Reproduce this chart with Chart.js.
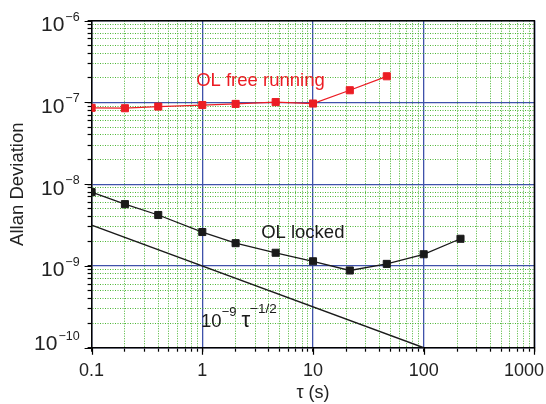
<!DOCTYPE html>
<html>
<head>
<meta charset="utf-8">
<script src="https://cdn.jsdelivr.net/npm/chart.js@4.4.1/dist/chart.umd.min.js"></script>
<style>
  html, body { margin: 0; padding: 0; background: #fff; }
</style>
</head>
<body>
<canvas id="myChart" width="546" height="404"></canvas>
<script>
// averaging times and Allan deviation values
const tau = [0.1, 0.2, 0.4, 1, 2, 4.6, 10, 21.5, 46.4, 100, 215]
const freeRunning = [8.6e-8, 8.5e-8, 8.9e-8, 9.3e-8, 9.6e-8, 1.01e-7, 9.7e-8, 1.41e-7, 2.09e-7]
const locked = [8.0e-9, 5.7e-9, 4.2e-9, 2.6e-9, 1.9e-9, 1.45e-9, 1.14e-9, 8.8e-10, 1.06e-9, 1.39e-9, 2.15e-9]
// 1e-9 / sqrt(tau) guide line, end points
const guideTau = [0.1, 100]
const guideValue = [3.16e-9, 1e-10]

const xTickLabels = ['0.1', '1', '10', '100', '1000']
const yTickExponents = ['−6', '−7', '−8', '−9', '−10']

const RED = '#ec1c24'
const BLACK = '#1a1a1a'
const FONT = "'Liberation Sans', Arial, sans-serif"

Chart.defaults.font.family = FONT

const isDecade = v => Math.abs(Math.log10(v) - Math.round(Math.log10(v))) < 1e-6

// 1..9 x 10^e for every decade between the two exponents
function decadeTicks(lo, hi) {
	const out = []
	for (let e = lo; e < hi; e++) {
		for (let m = 1; m < 10; m++) out.push({ value: +(m * Math.pow(10, e)).toPrecision(3) })
	}
	out.push({ value: +Math.pow(10, hi).toPrecision(3) })
	return out
}

const gridOpts = {
	color: ctx => ctx.tick && isDecade(ctx.tick.value) ? '#3f52aa' : '#4cb535',
	lineWidth: ctx => ctx.tick && isDecade(ctx.tick.value) ? 1.3 : 1,
	tickColor: '#000',
	tickLength: 4,
	tickWidth: 1.2,
}
const borderOpts = {
	color: '#000',
	width: 1.5,
	dash: ctx => ctx.tick && !isDecade(ctx.tick.value) ? [1, 1.5] : [],
}

// draws text pieces one after another, each with its own size and rise
function drawRuns(ctx, x, y, runs, align) {
	let widths = runs.map(r => {
		ctx.font = r.size + 'px ' + FONT
		return ctx.measureText(r.text).width + (r.gap || 0)
	})
	let total = widths.reduce((a, b) => a + b, 0)
	let cx = x
	if (align === 'right') cx = x - total
	if (align === 'center') cx = x - total / 2
	ctx.textAlign = 'left'
	ctx.textBaseline = 'alphabetic'
	runs.forEach((r, i) => {
		ctx.font = r.size + 'px ' + FONT
		ctx.fillText(r.text, cx + (r.gap || 0), y - (r.rise || 0))
		cx += widths[i]
	})
	return total
}

const extras = {
	id: 'extras',
	afterDatasetsDraw(chart) {
		const { ctx, chartArea: a, scales: { x, y } } = chart
		ctx.save()
		// frame on top and right
		ctx.strokeStyle = '#000'
		ctx.lineWidth = 1.5
		ctx.beginPath()
		ctx.moveTo(a.left, a.top)
		ctx.lineTo(a.right, a.top)
		ctx.lineTo(a.right, a.bottom)
		ctx.stroke()

		// longer ticks at the decades
		ctx.lineWidth = 1.2
		ctx.beginPath()
		x.ticks.filter(t => isDecade(t.value)).forEach(t => {
			const px = Math.round(x.getPixelForValue(t.value)) + 0.5
			ctx.moveTo(px, a.bottom)
			ctx.lineTo(px, a.bottom + 7)
		})
		y.ticks.filter(t => isDecade(t.value)).forEach(t => {
			const py = Math.round(y.getPixelForValue(t.value)) + 0.5
			ctx.moveTo(a.left, py)
			ctx.lineTo(a.left - 7, py)
		})
		ctx.stroke()

		// x tick labels, the last one kept inside the canvas
		ctx.fillStyle = '#222'
		ctx.font = '18px ' + FONT
		xTickLabels.forEach(label => {
			const w = ctx.measureText(label).width
			const px = Math.min(x.getPixelForValue(parseFloat(label)), chart.width - 2 - w / 2)
			drawRuns(ctx, px, a.bottom + 27.8, [{ text: label, size: 18 }], 'center')
		})

		// y tick labels as powers of ten
		yTickExponents.forEach(exp => {
			const v = Math.pow(10, parseInt(exp.replace('−', '-')))
			const py = Math.min(y.getPixelForValue(v) + 10.3, a.bottom + 2.3)
			drawRuns(ctx, a.left - 12, py, [
				{ text: '10', size: 21 },
				{ text: exp, size: 12.5, rise: 10.5, gap: 1 },
			], 'right')
		})

		// curve labels
		ctx.fillStyle = RED
		drawRuns(ctx, x.getPixelForValue(0.88), y.getPixelForValue(1.61e-7), [{ text: 'OL free running', size: 18.5 }])
		ctx.fillStyle = BLACK
		drawRuns(ctx, x.getPixelForValue(3.4), y.getPixelForValue(2.18e-9), [{ text: 'OL locked', size: 18.5 }])
		drawRuns(ctx, x.getPixelForValue(0.975), y.getPixelForValue(1.8e-10), [
			{ text: '10', size: 18.5 },
			{ text: '−9', size: 13, rise: 11 },
			{ text: 'τ', size: 22, gap: 5 },
			{ text: '−1/2', size: 13.5, rise: 14 },
		])
		ctx.restore()
	}
}

function getChart() {
	const context = document.getElementById('myChart')
	const data = {
		datasets: [
			{
				label: 'OL free running',
				data: freeRunning.map((v, i) => ({ x: tau[i], y: v })),
				borderColor: RED,
				backgroundColor: RED,
				borderWidth: 1.3,
				pointStyle: 'rect',
				pointRadius: 5,
				pointBorderWidth: 1,
			},
			{
				label: 'OL locked',
				data: locked.map((v, i) => ({ x: tau[i], y: v })),
				borderColor: BLACK,
				backgroundColor: BLACK,
				borderWidth: 1.3,
				pointStyle: 'rect',
				pointRadius: 5,
				pointBorderWidth: 1,
			},
			{
				label: 'guide',
				data: guideValue.map((v, i) => ({ x: guideTau[i], y: v })),
				borderColor: BLACK,
				borderWidth: 1.5,
				pointRadius: 0,
			},
		]
	}
	const config = {
		type: 'line',
		data: data,
		options: {
			responsive: false,
			animation: false,
			events: [],
			layout: { padding: { left: 0, right: 11.6, top: 20.7, bottom: 0 } },
			plugins: { legend: { display: false }, tooltip: { enabled: false } },
			scales: {
				x: {
					type: 'logarithmic',
					min: 0.1,
					max: 1000,
					afterBuildTicks: s => { s.ticks = decadeTicks(-1, 3) },
					afterFit: s => { s.height = 56.3; s.paddingLeft = 0; s.paddingRight = 0 },
					grid: gridOpts,
					border: borderOpts,
					ticks: { display: false, autoSkip: false },
					title: { display: true, text: 'τ (s)', color: '#222', font: { size: 18 }, padding: 0 },
				},
				y: {
					type: 'logarithmic',
					min: 1e-10,
					max: 1e-6,
					afterBuildTicks: s => { s.ticks = decadeTicks(-10, -6) },
					afterFit: s => { s.width = 91.6; s.paddingTop = 0; s.paddingBottom = 0 },
					grid: gridOpts,
					border: borderOpts,
					ticks: { display: false, autoSkip: false },
					title: { display: true, text: 'Allan Deviation', color: '#222', font: { size: 18.5 }, padding: { top: 7, bottom: 0 } },
				},
			},
		},
		plugins: [extras],
	}
	const myChart = new Chart(context, config)
}

getChart()
</script>
</body>
</html>
